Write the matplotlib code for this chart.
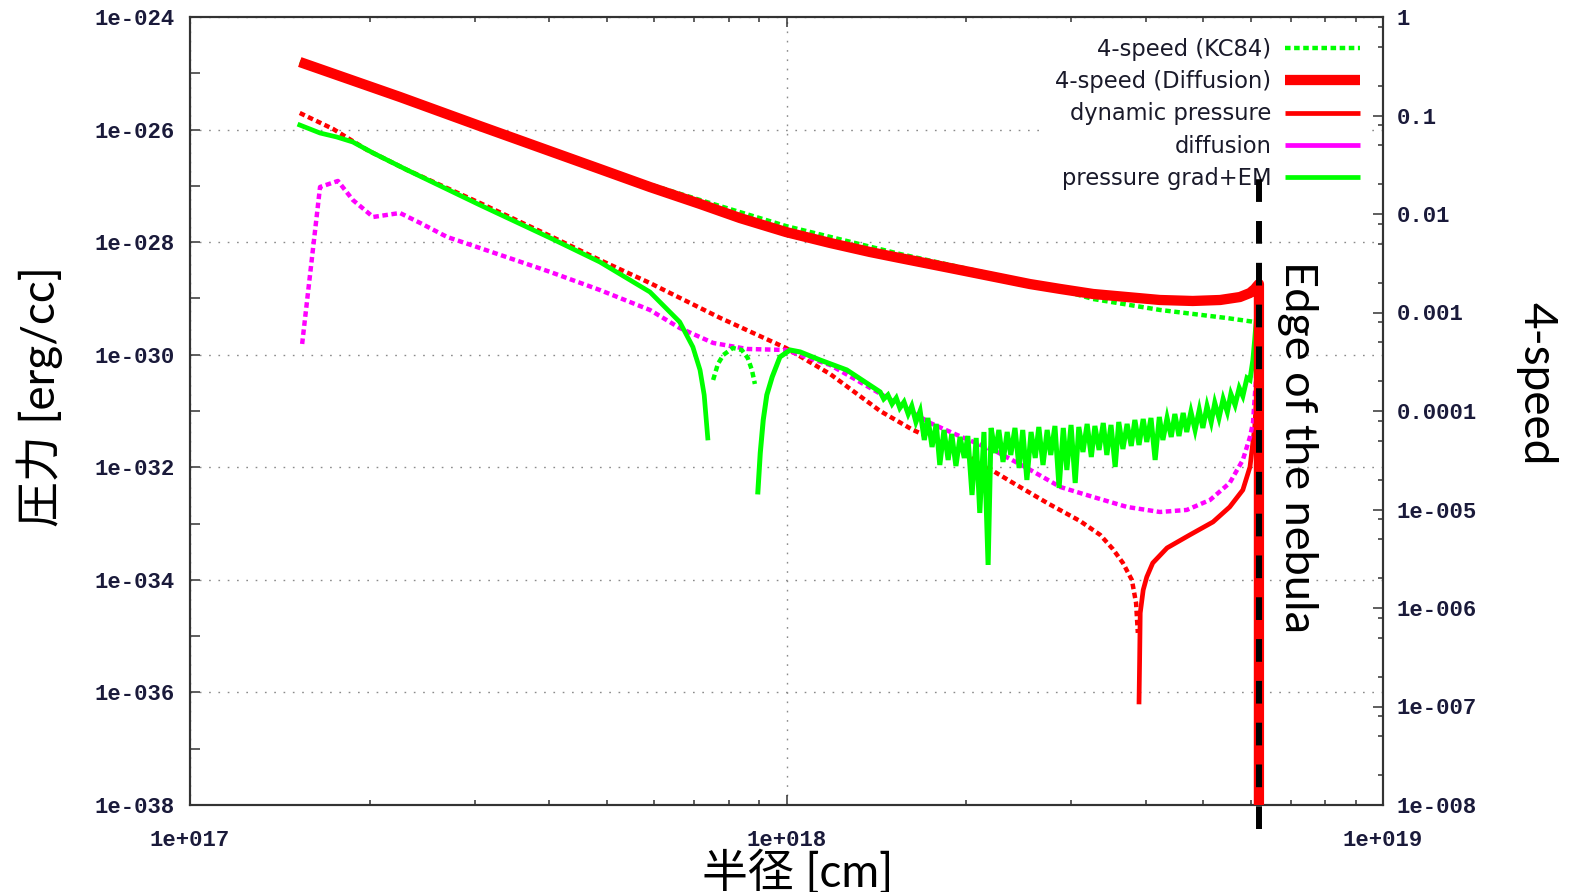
import numpy as np
import matplotlib
matplotlib.use("Agg")
import matplotlib.pyplot as plt
from matplotlib.lines import Line2D
from matplotlib.ticker import FixedLocator, FuncFormatter, NullFormatter, LogLocator

# ---------------------------------------------------------------------------
# Data (log10 of radius [cm], log10 of pressure [erg/cc] / 4-speed)
# ---------------------------------------------------------------------------
edge_log_r = 18.792  # edge of the nebula

# 4-speed, diffusion model (right axis)
log_r_speed_diff = [17.184, 17.352, 17.486, 17.687, 17.771, 17.855, 17.922, 17.999,
                    18.073, 18.140, 18.190, 18.274, 18.358, 18.408, 18.459, 18.514,
                    18.571, 18.626, 18.681, 18.727, 18.760, 18.777, 18.785, 18.789,
                    18.792, 18.792]
log_v_speed_diff = [-0.457, -0.812, -1.107, -1.543, -1.726, -1.898, -2.041, -2.183,
                    -2.294, -2.386, -2.447, -2.548, -2.650, -2.711, -2.761, -2.812,
                    -2.843, -2.873, -2.883, -2.873, -2.843, -2.802, -2.761, -2.731,
                    -2.71, -10.0]

# 4-speed, KC84 model (right axis)
log_r_speed_kc = [17.184, 17.352, 17.486, 17.687, 17.855, 17.999, 18.190, 18.358,
                  18.442, 18.514, 18.626, 18.738, 18.785]
log_v_speed_kc = [-0.457, -0.812, -1.107, -1.543, -1.858, -2.122, -2.406, -2.629,
                  -2.741, -2.863, -2.974, -3.056, -3.096]

# dynamic pressure: negative branch (|value|) and positive branch
log_r_dyn_neg = [17.184, 17.240, 17.297, 17.364, 17.486, 17.604, 17.687, 17.771,
                 17.889, 17.999, 18.073, 18.157, 18.212, 18.269, 18.324, 18.380,
                 18.437, 18.492, 18.526, 18.547, 18.564, 18.579, 18.586, 18.589]
log_p_dyn_neg = [-25.705, -25.990, -26.363, -26.718, -27.304, -27.891, -28.317, -28.726,
                 -29.347, -29.880, -30.342, -31.000, -31.337, -31.603, -31.923, -32.279,
                 -32.634, -32.954, -33.202, -33.451, -33.700, -34.002, -34.410, -34.943]
log_r_dyn_pos = [18.591, 18.592, 18.593, 18.598, 18.604, 18.614, 18.638, 18.676,
                 18.715, 18.743, 18.765, 18.777, 18.785, 18.789, 18.791, 18.792]
log_p_dyn_pos = [-36.169, -35.423, -34.588, -34.179, -33.948, -33.700, -33.433, -33.202,
                 -32.971, -32.705, -32.403, -31.994, -31.284, -30.573, -29.560, -28.850]

# diffusion term (negative everywhere, |value|)
log_r_diff = [17.188, 17.218, 17.248, 17.273, 17.307, 17.352, 17.386, 17.431, 17.486,
              17.604, 17.687, 17.771, 17.821, 17.877, 17.934, 17.999, 18.023, 18.073,
              18.123, 18.190, 18.241, 18.286, 18.353, 18.403, 18.459, 18.514, 18.571,
              18.626, 18.671, 18.710, 18.743, 18.765, 18.777, 18.782, 18.787, 18.790,
              18.792]
log_p_diff = [-29.809, -27.020, -26.913, -27.251, -27.553, -27.482, -27.660, -27.908,
              -28.104, -28.530, -28.850, -29.205, -29.525, -29.791, -29.898, -29.916,
              -30.005, -30.182, -30.484, -30.893, -31.213, -31.426, -31.728, -32.012,
              -32.350, -32.527, -32.705, -32.794, -32.758, -32.581, -32.278, -31.870,
              -31.461, -31.213, -30.449, -29.560, -28.797]

# pressure gradient + EM: inner positive branch, short negative branch, outer branch
log_r_pg_a = [17.184, 17.218, 17.246, 17.273, 17.307, 17.364, 17.486, 17.604, 17.687,
              17.771, 17.821, 17.843, 17.855, 17.862, 17.868]
log_p_pg_a = [-25.919, -26.061, -26.132, -26.221, -26.416, -26.718, -27.340, -27.926,
              -28.352, -28.885, -29.418, -29.862, -30.271, -30.715, -31.479]

log_r_pg_neg = [17.877, 17.885, 17.894, 17.910, 17.925, 17.935, 17.942, 17.947]
log_p_pg_neg = [-30.449, -30.164, -30.005, -29.880, -29.916, -30.058, -30.271, -30.520]

log_r_pg_b = [17.952, 17.956, 17.961, 17.967, 17.976, 17.989, 18.006, 18.023, 18.056,
              18.101,
              18.157, 18.163, 18.170, 18.177, 18.184, 18.190, 18.197, 18.204, 18.210,
              18.217, 18.224, 18.231, 18.237, 18.244, 18.251, 18.257, 18.264, 18.271,
              18.277, 18.284, 18.291, 18.298, 18.304, 18.311, 18.318, 18.324, 18.331,
              18.338, 18.343, 18.350, 18.356, 18.363, 18.370, 18.376, 18.383, 18.390,
              18.396, 18.403, 18.410, 18.417, 18.423, 18.430, 18.437, 18.443, 18.450,
              18.457, 18.464, 18.470, 18.477, 18.484, 18.490, 18.497, 18.504, 18.511,
              18.517, 18.524, 18.531, 18.537, 18.544, 18.551, 18.557, 18.564, 18.571,
              18.578, 18.584, 18.591, 18.598, 18.604, 18.611, 18.618, 18.625, 18.631,
              18.638, 18.645, 18.651, 18.658, 18.665, 18.671, 18.678, 18.685, 18.692,
              18.698, 18.705, 18.712, 18.718, 18.725, 18.732, 18.739, 18.745, 18.752,
              18.759, 18.765, 18.772, 18.777, 18.782, 18.785, 18.789, 18.792]
log_p_pg_b = [-32.438, -31.746, -31.159, -30.715, -30.395, -30.040, -29.916, -29.951,
              -30.093, -30.271,
              -30.662, -30.786, -30.715, -30.875, -30.769, -30.946, -30.840, -31.053,
              -30.911, -31.195, -31.000, -31.515, -31.124, -31.639, -31.230, -31.959,
              -31.337, -31.870, -31.408, -31.977, -31.461, -31.834, -31.444, -32.492,
              -31.479, -32.811, -31.373, -33.735, -31.301, -31.746, -31.337, -31.905,
              -31.373, -31.781, -31.301, -32.012, -31.337, -32.225, -31.373, -31.834,
              -31.284, -31.959, -31.337, -31.781, -31.266, -32.367, -31.301, -32.048,
              -31.248, -32.279, -31.284, -31.728, -31.230, -31.817, -31.266, -31.692,
              -31.213, -31.781, -31.248, -31.994, -31.195, -31.675, -31.230, -31.621,
              -31.159, -31.603, -31.142, -31.550, -31.124, -31.870, -31.106, -31.515,
              -31.124, -31.461, -31.053, -31.444, -31.035, -31.373, -31.017, -31.337,
              -30.982, -31.301, -30.911, -31.195, -30.857, -31.124, -30.786, -31.017,
              -30.698, -30.893, -30.591, -30.733, -30.413, -30.449, -30.093, -29.738,
              -29.205, -28.940]

legend_labels = ["4-speed (KC84)", "4-speed (Diffusion)", "dynamic pressure",
                 "diffusion", "pressure grad+EM"]

x_ticks = [1e17, 1e18, 1e19]
y_left_ticks = [1e-24, 1e-26, 1e-28, 1e-30, 1e-32, 1e-34, 1e-36, 1e-38]
y_left_minor = [1e-25, 1e-27, 1e-29, 1e-31, 1e-33, 1e-35, 1e-37]
y_right_ticks = [1, 1e-1, 1e-2, 1e-3, 1e-4, 1e-5, 1e-6, 1e-7, 1e-8]


def lin(values):
    return np.power(10.0, np.asarray(values, dtype=float))


# ---------------------------------------------------------------------------
# Styles
# ---------------------------------------------------------------------------
RED = "#ff0000"
GREEN = "#00ff00"
MAGENTA = "#ff00ff"
TICK_COLOR = "#1a1a3a"
DOT = (0, (1.25, 0.8))
latin_cjk = ["Lato", "Noto Sans CJK JP"]

fig = plt.figure(figsize=(15.7, 8.92), dpi=100, facecolor="white")
ax = fig.add_axes([190 / 1570, 1 - 805 / 892, 1193 / 1570, 788 / 892])
ax2 = ax.twinx()

ax.set_xscale("log")
ax.set_yscale("log")
ax2.set_yscale("log")
ax.set_xlim(1e17, 1e19)
ax.set_ylim(1e-38, 1e-24)
ax2.set_ylim(1e-8, 1)

# pressure terms (left axis)
ax.plot(lin(log_r_dyn_neg), lin(log_p_dyn_neg), color=RED, lw=3.2, ls=DOT, zorder=3)
ax.plot(lin(log_r_dyn_pos), lin(log_p_dyn_pos), color=RED, lw=3.4, zorder=3)
ax.plot(lin(log_r_diff), lin(log_p_diff), color=MAGENTA, lw=3.2, ls=DOT, zorder=4)
ax.plot(lin(log_r_pg_a), lin(log_p_pg_a), color=GREEN, lw=3.4, zorder=5)
ax.plot(lin(log_r_pg_neg), lin(log_p_pg_neg), color=GREEN, lw=3.2, ls=DOT, zorder=5)
ax.plot(lin(log_r_pg_b), lin(log_p_pg_b), color=GREEN, lw=3.6, zorder=5,
        solid_joinstyle="miter")

# 4-speed (right axis)
ax2.plot(lin(log_r_speed_kc), lin(log_v_speed_kc), color=GREEN, lw=3.2, ls=DOT, zorder=2)
ax2.plot(lin(log_r_speed_diff), lin(log_v_speed_diff), color=RED, lw=7.4, zorder=3,
         solid_capstyle="butt")

# edge of the nebula
ax2.axvline(10 ** edge_log_r, ymin=-0.03, ymax=0.803, color="black", lw=4.3,
            ls=(0, (3.8, 3.2)), clip_on=False, zorder=10)
ax2.text(0.928, 0.454, "Edge of the nebula", transform=ax2.transAxes,
         rotation=270, ha="center", va="center", fontsize=32.5, family=latin_cjk,
         color="black", zorder=11)

# grid
for axis_name in ("x", "y"):
    ax.grid(True, which="major", axis=axis_name, color="#8a8a8a", lw=1.0,
            ls=(0, (1.2, 5.5)))
ax.set_axisbelow(True)


# ticks
def left_fmt(v, pos):
    e = int(round(np.log10(v)))
    return f"1e{e:+04d}"


def right_fmt(v, pos):
    e = int(round(np.log10(v)))
    if e == 0:
        return "1"
    if e >= -4:
        return f"{10.0 ** e:.{-e}f}"
    return f"1e{e:+04d}"


tick_font = dict(family="Liberation Mono", weight="bold", size=16)

ax.xaxis.set_major_locator(FixedLocator(x_ticks))
ax.xaxis.set_minor_locator(LogLocator(base=10, subs=np.arange(2, 10)))
ax.xaxis.set_major_formatter(FuncFormatter(left_fmt))
ax.xaxis.set_minor_formatter(NullFormatter())
ax.yaxis.set_major_locator(FixedLocator(y_left_ticks))
ax.yaxis.set_minor_locator(FixedLocator(y_left_minor))
ax.yaxis.set_major_formatter(FuncFormatter(left_fmt))
ax.yaxis.set_minor_formatter(NullFormatter())
ax2.yaxis.set_major_locator(FixedLocator(y_right_ticks))
ax2.yaxis.set_minor_locator(LogLocator(base=10, subs=(2.0, 5.0, 8.0)))
ax2.yaxis.set_major_formatter(FuncFormatter(right_fmt))
ax2.yaxis.set_minor_formatter(NullFormatter())

ax.tick_params(axis="x", which="both", direction="in", top=True, bottom=True,
               color="#333333", width=1.1, pad=18, labelcolor=TICK_COLOR)
ax.tick_params(axis="x", which="major", length=7)
ax.tick_params(axis="x", which="minor", length=3.6)
ax.tick_params(axis="y", which="both", direction="in", left=True, right=False,
               length=7, color="#333333", width=1.1, pad=11, labelcolor=TICK_COLOR)
ax2.tick_params(axis="y", which="both", direction="in", right=True, left=False,
                color="#333333", width=1.1, pad=10, labelcolor=TICK_COLOR)
ax2.tick_params(axis="y", which="major", length=7)
ax2.tick_params(axis="y", which="minor", length=3.6)

for lab in ax.get_xticklabels() + ax.get_yticklabels() + ax2.get_yticklabels():
    lab.set_fontproperties(tick_font)

for a in (ax, ax2):
    for sp in a.spines.values():
        sp.set_color("#333333")
        sp.set_linewidth(1.5)

# axis titles
ax.set_xlabel("半径 [cm]", family=latin_cjk, fontsize=33)
ax.xaxis.set_label_coords(0.509, -0.085)
ax.xaxis.label.set_va("center")
ax.set_ylabel("圧力 [erg/cc]", family=latin_cjk, fontsize=33)
ax.yaxis.set_label_coords(-0.126, 0.518)
ax.yaxis.label.set_va("center")
ax2.set_ylabel("4-speed", family=latin_cjk, fontsize=33, rotation=270)
ax2.yaxis.set_label_coords(1.129, 0.535)
ax2.yaxis.label.set_va("center")

# legend (handles after the text, right aligned)
handles = [
    Line2D([], [], color=GREEN, lw=3.2, ls=DOT),
    Line2D([], [], color=RED, lw=7.4, solid_capstyle="butt"),
    Line2D([], [], color=RED, lw=3.4, solid_capstyle="butt"),
    Line2D([], [], color=MAGENTA, lw=3.4, solid_capstyle="butt"),
    Line2D([], [], color=GREEN, lw=3.4, solid_capstyle="butt"),
]
leg = ax2.legend(handles, legend_labels, loc="upper right",
                 bbox_to_anchor=(0.988, 0.985), markerfirst=False, frameon=True,
                 fancybox=False, edgecolor="none", facecolor="white", framealpha=1,
                 prop=dict(family="DejaVu Sans", size=16.3), handlelength=3.3,
                 handletextpad=0.6, labelspacing=0.41, borderpad=0.4,
                 borderaxespad=0)
leg.set_zorder(6)
for t in leg.get_texts():
    t.set_color("#1a1a2a")

fig.savefig("out.png", dpi=100, facecolor="white")
